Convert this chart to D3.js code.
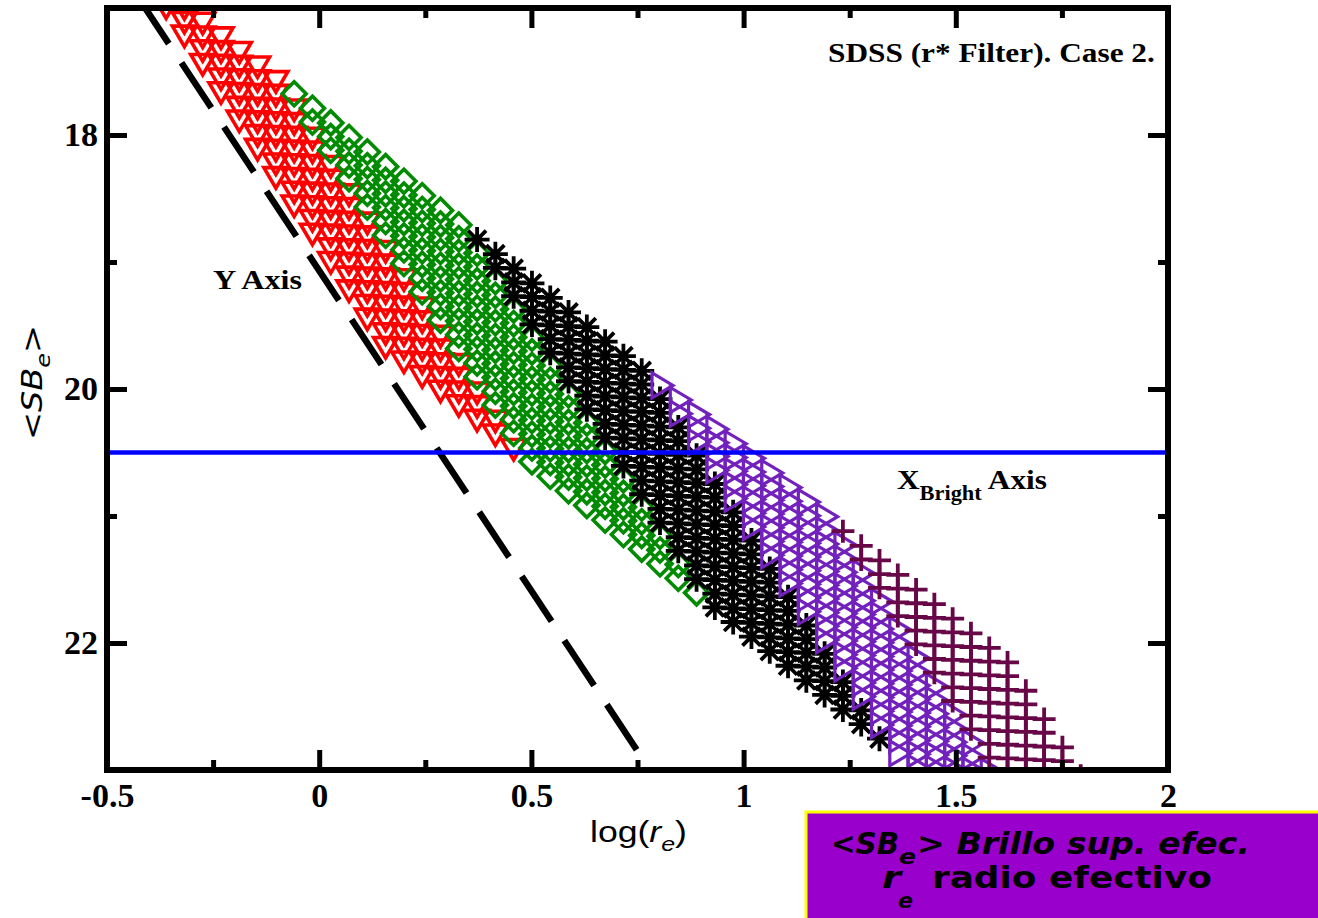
<!DOCTYPE html>
<html><head><meta charset="utf-8">
<script src="https://cdn.jsdelivr.net/npm/d3@7"></script>
<style>body{margin:0;background:#fff;} svg{display:block}</style>
</head><body>
<svg id="chart" width="1318" height="918"></svg>
<script>
// ---------------- data ----------------
const xDomain = [-0.5, 2];
const yDomain = [17, 23];
const xTicks = [-0.5, 0, 0.5, 1, 1.5, 2];
const xTickLabels = ["-0.5", "0", "0.5", "1", "1.5", "2"];
const xMinorTicks = [-0.25, 0.25, 0.75, 1.25, 1.75];
const yTicks = [18, 20, 22];
const yTickLabels = ["18", "20", "22"];
const yMinorTicks = [19, 21];

// model galaxies: columns in log(re), levels in (<SB_e> - slope*log(re))
const gridX0 = 0.803, gridDX = 0.0431;
const gridM0 = 15.82, gridDM = 0.108, gridSlope = 5.17;
const seriesNames  = ["red", "green", "black", "purple", "maroon"];
const seriesLevelMin = [21, 11, 1, -9, -19];
const seriesLevelMax = [40, 20, 10, 0, -10];
// selection band
const bandSlope = 2.66, bandTop = 17.79, bandBottom = 19.25;
const faintSlope = 5.04, faintLimit = 18.895;
// lines
const xBrightSB = 20.5;
const dashedX = [0.748, -0.42];
const dashedY = [22.84, 16.95];

// ---------------- styles ----------------
const seriesColor = ["#ff0000", "#008b00", "#000000", "#7221bc", "#670748"];
const seriesSymbol = [
  "M-12,-7.5L12,-7.5L0,13Z",
  "M0,-12L12,0L0,12L-12,0Z",
  "M-12.5,0H12.5M0,-12.5V12.5M-9,-9L9,9M-9,9L9,-9",
  "M-8,-12.5L-8,12.5L13,0Z",
  "M-11.5,0H11.5M0,-11.5V11.5"
];
const seriesStroke = [3.6, 3.6, 3.8, 3.2, 3.8];

const svg = d3.select("#chart");
const L = 107, R = 1168, T = 8, B = 770;
const x = d3.scaleLinear().domain(xDomain).range([L, R]);
const y = d3.scaleLinear().domain(yDomain).range([T, B]);

// build points for each series
const seriesPoints = seriesNames.map((name, s) => {
  const pts = [];
  for (let i = -40; i <= 40; i++) {
    const lx = gridX0 + i * gridDX;
    if (lx < xDomain[0] || lx > xDomain[1]) continue;
    for (let j = seriesLevelMin[s]; j <= seriesLevelMax[s]; j++) {
      const sb = gridM0 + j * gridDM + gridSlope * lx;
      const band = sb - bandSlope * lx;
      if (band < bandTop || band > bandBottom) continue;
      if (sb - faintSlope * lx > faintLimit) continue;
      if (sb < yDomain[0] - 0.08 || sb > yDomain[1] + 0.05) continue;
      pts.push([lx, sb]);
    }
  }
  return pts;
});

svg.append("defs").append("clipPath").attr("id", "plotclip")
  .append("rect").attr("x", L).attr("y", T).attr("width", R - L).attr("height", B - T);

const plot = svg.append("g").attr("clip-path", "url(#plotclip)");
seriesNames.forEach((name, s) => {
  plot.append("g").attr("class", "series-" + name)
    .selectAll("path").data(seriesPoints[s]).join("path")
    .attr("d", seriesSymbol[s])
    .attr("transform", d => `translate(${x(d[0])},${y(d[1])})`)
    .attr("fill", "none")
    .attr("stroke", seriesColor[s])
    .attr("stroke-width", seriesStroke[s]);
});

// dashed Y axis line (drawn from its lower end upward)
plot.append("path")
  .attr("d", d3.line().x(d => x(d[0])).y(d => y(d[1]))(dashedX.map((v, k) => [v, dashedY[k]])))
  .attr("stroke", "#000").attr("stroke-width", 6.5).attr("fill", "none")
  .attr("stroke-dasharray", "54,23");

// blue X_Bright axis line
plot.append("line")
  .attr("x1", x(xDomain[0])).attr("x2", x(xDomain[1]))
  .attr("y1", y(xBrightSB)).attr("y2", y(xBrightSB))
  .attr("stroke", "#0000ff").attr("stroke-width", 4.5);

// axes
const serif = "'Liberation Serif', 'Times New Roman', serif";
function styleAxis(g) {
  g.select(".domain").remove();
  g.selectAll(".tick line").attr("stroke", "#000").attr("stroke-width", 5);
  g.selectAll(".tick text").attr("font-family", serif)
    .attr("font-weight", "bold").attr("font-size", 34).attr("fill", "#000");
}
svg.append("g").attr("transform", `translate(0,${B})`)
  .call(d3.axisBottom(x).tickValues(xTicks).tickFormat((d, k) => xTickLabels[k])
    .tickSizeInner(-20).tickSizeOuter(0).tickPadding(13)).call(styleAxis);
svg.append("g").attr("transform", `translate(0,${B})`)
  .call(d3.axisBottom(x).tickValues(xMinorTicks).tickFormat("").tickSizeInner(-10).tickSizeOuter(0)).call(styleAxis);
svg.append("g").attr("transform", `translate(0,${T})`)
  .call(d3.axisTop(x).tickValues(xTicks).tickFormat("").tickSizeInner(-20).tickSizeOuter(0)).call(styleAxis);
svg.append("g").attr("transform", `translate(0,${T})`)
  .call(d3.axisTop(x).tickValues(xMinorTicks).tickFormat("").tickSizeInner(-10).tickSizeOuter(0)).call(styleAxis);
svg.append("g").attr("transform", `translate(${L},0)`)
  .call(d3.axisLeft(y).tickValues(yTicks).tickFormat((d, k) => yTickLabels[k])
    .tickSizeInner(-20).tickSizeOuter(0).tickPadding(9)).call(styleAxis);
svg.append("g").attr("transform", `translate(${L},0)`)
  .call(d3.axisLeft(y).tickValues(yMinorTicks).tickFormat("").tickSizeInner(-10).tickSizeOuter(0)).call(styleAxis);
svg.append("g").attr("transform", `translate(${R},0)`)
  .call(d3.axisRight(y).tickValues(yTicks).tickFormat("").tickSizeInner(-20).tickSizeOuter(0)).call(styleAxis);
svg.append("g").attr("transform", `translate(${R},0)`)
  .call(d3.axisRight(y).tickValues(yMinorTicks).tickFormat("").tickSizeInner(-10).tickSizeOuter(0)).call(styleAxis);

// frame
svg.append("rect").attr("x", L).attr("y", T).attr("width", R - L).attr("height", B - T)
  .attr("fill", "none").attr("stroke", "#000").attr("stroke-width", 6);

// helper: stretch a text horizontally to a target width, anchored at x0
function fit(t, x0, width) {
  const w = t.node().getComputedTextLength();
  const sx = width / w;
  t.attr("transform", `translate(${x0},0) scale(${sx},1) translate(${-x0},0)`);
}

// annotations
const title = svg.append("text").attr("x", 828).attr("y", 62)
  .attr("font-family", serif).attr("font-weight", "bold").attr("font-size", 28)
  .text("SDSS (r* Filter). Case 2.");
fit(title, 828, 327);
const yax = svg.append("text").attr("x", 213).attr("y", 289)
  .attr("font-family", serif).attr("font-weight", "bold").attr("font-size", 28)
  .text("Y Axis");
fit(yax, 213, 89);
const xb = svg.append("text").attr("x", 897).attr("y", 489)
  .attr("font-family", serif).attr("font-weight", "bold").attr("font-size", 28);
xb.append("tspan").text("X");
xb.append("tspan").attr("font-size", 20).attr("dy", 11).text("Bright");
xb.append("tspan").attr("dy", -11).text(" Axis");
fit(xb, 897, 150);

// axis titles
const sans = "'Liberation Sans Narrow', 'Liberation Sans', Arial, sans-serif";
const xl = svg.append("text").attr("x", 590).attr("y", 842)
  .attr("font-family", sans).attr("font-size", 30);
xl.append("tspan").text("log(");
xl.append("tspan").attr("font-style", "italic").text("r");
xl.append("tspan").attr("font-size", 21).attr("dy", 9).attr("font-style", "italic").text("e");
xl.append("tspan").attr("dy", -9).text(")");
fit(xl, 590, 97);

const yl = svg.append("text").attr("transform", "translate(42,440) rotate(-90)")
  .attr("font-family", "'DejaVu Sans', Verdana, sans-serif").attr("font-size", 28)
  .attr("textLength", 115).attr("lengthAdjust", "spacingAndGlyphs");
yl.append("tspan").text("<");
yl.append("tspan").attr("font-style", "italic").text("SB");
yl.append("tspan").attr("font-style", "italic").attr("font-size", 20).attr("dy", 8).text("e");
yl.append("tspan").attr("dy", -8).text(">");

// purple info box
svg.append("rect").attr("x", 806).attr("y", 812).attr("width", 520).attr("height", 120)
  .attr("fill", "#9900cc").attr("stroke", "#ffff00").attr("stroke-width", 3);
const bx = "Verdana, 'DejaVu Sans', sans-serif";
function boxText(xp, yp, size, italic, str, len) {
  const t = svg.append("text").attr("x", xp).attr("y", yp)
    .attr("font-family", bx).attr("font-weight", "bold").attr("font-size", size)
    .attr("font-style", italic ? "italic" : "normal").attr("fill", "#000").text(str);
  fit(t, xp, len);
  return t;
}
boxText(831, 854, 31, true, "<SB", 68);
boxText(899, 864, 22, true, "e", 17);
boxText(917, 854, 31, true, "> Brillo sup. efec.", 333);
boxText(882, 888, 31, true, "r", 19);
boxText(898, 908, 22, true, "e", 15);
boxText(932, 888, 31, false, "radio efectivo", 280);
</script>
</body></html>
